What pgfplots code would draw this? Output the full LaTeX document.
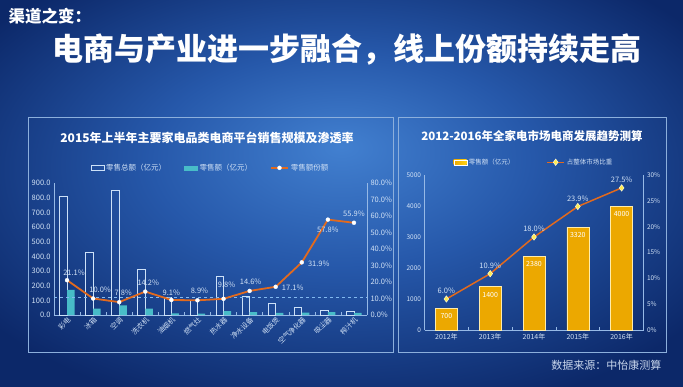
\documentclass[border=0pt]{standalone}
\usepackage{fontspec}
\setmainfont{Noto Sans CJK SC}
\usepackage{pgfplots}
\pgfplotsset{compat=1.18}
\usepackage{pgfplotstable}
\definecolor{bgdark}{RGB}{12,40,105}
\definecolor{bgmid}{RGB}{38,88,170}
\definecolor{bglight}{RGB}{66,128,208}
\definecolor{txt}{RGB}{210,226,246}
\definecolor{axcol}{RGB}{150,185,230}
\definecolor{panelcol}{RGB}{140,175,220}
\definecolor{barline}{RGB}{205,225,248}
\definecolor{cyanbar}{RGB}{72,188,200}
\definecolor{orangeline}{RGB}{226,106,30}
\definecolor{gold1}{RGB}{236,168,0}
\definecolor{gold2}{RGB}{255,210,20}
\definecolor{diam}{RGB}{255,236,80}
\definecolor{dashcol}{RGB}{130,185,240}
\definecolor{footcol}{RGB}{200,214,236}
\pgfdeclareradialshading{bgshade}{\pgfpoint{0bp}{6bp}}{color(0bp)=(bglight); color(14bp)=(bgmid); color(32bp)=(bgdark); color(50bp)=(bgdark)}
\pgfplotsset{/pgf/number format/assume math mode=true, /pgf/number format/1000 sep={}}

\pgfplotstableread{
x total retail share dx dy
0 810 171 21.1 7 8
1 430 43 10.0 7 10
2 850 66 7.8 4 10
3 310 44 14.2 3 10
4 120 11 9.1 0 8
5 100 9 8.9 2 11
6 265 26 9.8 3 15
7 130 19 14.6 1 10
8 80 14 17.1 17 0
9 52 17 31.9 17 0
10 34 20 57.8 0 -9
11 27 15 55.9 0 10
}\leftdata

\pgfplotstableread{
x sales share
0 700 6.0
1 1400 10.9
2 2380 18.0
3 3320 23.9
4 4000 27.5
}\rightdata

\begin{document}
\begin{tikzpicture}[x=1pt,y=1pt]
\useasboundingbox (0,0) rectangle (683,386);
\shade[shading=bgshade] (0,0) rectangle (683,386);
\draw[panelcol, line width=0.8pt] (28,34) rectangle (393,269);
\draw[panelcol, line width=0.8pt] (398,34) rectangle (666,269);

\node[anchor=west, text=white, font=\bfseries\fontsize{16.5}{16.5}\selectfont] at (5,370) {渠道之变：};
\node[text=white, font=\bfseries\fontsize{31}{31}\selectfont] at (347,336) {电商与产业进一步融合，线上份额持续走高};
\node[text=white, font=\bfseries\fontsize{12}{12}\selectfont] at (207,248) {2015年上半年主要家电品类电商平台销售规模及渗透率};
\node[text=white, font=\bfseries\fontsize{11.5}{12}\selectfont] at (532,250) {2012-2016年全家电市场电商发展趋势测算};
\node[anchor=east, text=footcol, font=\fontsize{11}{11}\selectfont] at (665,21) {数据来源：中怡康测算};

% ---------- left chart: amounts ----------
\begin{axis}[
  at={(54pt,71pt)}, anchor=south west, scale only axis,
  width=313pt, height=132pt,
  xmin=-0.5, xmax=11.5, ymin=0, ymax=900,
  axis x line*=bottom, axis y line*=left,
  axis line style={axcol, line width=0.5pt},
  xtick={0,...,11},
  xticklabels={彩电,冰箱,空调,洗衣机,油烟机,燃气灶,热水器,净水设备,电饭煲,空气净化器,吸尘器,榨汁机},
  x tick label style={rotate=45, anchor=north east, font=\fontsize{7}{7.5}\selectfont, text=txt, inner sep=0.5pt},
  minor xtick={-0.5,0.5,...,11.5},
  major tick length=0pt, minor tick length=3pt, tick align=inside,
  minor tick style={axcol, line width=0.5pt},
  ytick={0,100,...,900},
  y tick label style={font=\fontsize{7.5}{8}\selectfont, text=txt},
  yticklabel={\pgfmathprintnumber[fixed,fixed zerofill,precision=1]{\tick}},
  scaled y ticks=false,
  clip=false,
]
\addplot[ybar, bar width=7.5pt, bar shift=-3.8pt, draw=barline, line width=0.6pt, fill=none] table[x=x, y=total]{\leftdata};
\addplot[ybar, bar width=7.5pt, bar shift=3.8pt, draw=none, fill=cyanbar] table[x=x, y=retail]{\leftdata};
\end{axis}

% ---------- left chart: share ----------
\begin{axis}[
  at={(54pt,71pt)}, anchor=south west, scale only axis,
  width=313pt, height=132pt,
  xmin=-0.5, xmax=11.5, ymin=0, ymax=80,
  axis y line*=right, axis x line=none,
  axis line style={axcol, line width=0.5pt},
  major tick length=0pt,
  ytick={0,10,...,80},
  y tick label style={font=\fontsize{7.5}{8}\selectfont, text=txt},
  yticklabel={\pgfmathprintnumber[fixed,fixed zerofill,precision=1]{\tick}\%},
  clip=false,
  legend style={at={(0.5,1)}, anchor=south, yshift=7pt, draw=none, fill=none,
    text=txt, font=\fontsize{7.5}{9}\selectfont, legend columns=3,
    /tikz/every even column/.append style={column sep=16pt}},
  legend cell align=left,
]
\addlegendimage{legend image code/.code={\draw[draw=barline, line width=0.6pt] (0pt,-2.5pt) rectangle (13pt,2.5pt);}}
\addlegendentry{零售总额（亿元）}
\addlegendimage{legend image code/.code={\fill[cyanbar] (0pt,-2pt) rectangle (13pt,2pt);}}
\addlegendentry{零售额（亿元）}
\addplot[dashcol, dashed, line width=0.7pt, forget plot] coordinates {(-0.5,10.7) (11.5,10.7)};
\addplot[orangeline, line width=1.8pt, mark=*, mark size=2pt,
  mark options={fill=white, draw=white, line width=0.3pt},
  point meta=y,
  nodes near coords={\pgfmathprintnumber[fixed,fixed zerofill,precision=1]{\pgfplotspointmeta}\%},
  visualization depends on={\thisrow{dx}\as\dx},
  visualization depends on={\thisrow{dy}\as\dy},
  every node near coord/.append style={font=\fontsize{7.5}{8}\selectfont, text=txt, inner sep=1pt, xshift=\dx pt, yshift={\dy pt-5pt}}]
  table[x=x, y=share]{\leftdata};
\addlegendentry{零售额份额}
\end{axis}

% ---------- right chart: sales ----------
\begin{axis}[
  at={(424.5pt,56pt)}, anchor=south west, scale only axis,
  width=219pt, height=155pt,
  xmin=-0.5, xmax=4.5, ymin=0, ymax=5000,
  axis x line*=bottom, axis y line*=left,
  axis line style={axcol, line width=0.5pt},
  xtick={0,...,4},
  xticklabels={2012年,2013年,2014年,2015年,2016年},
  x tick label style={font=\fontsize{7}{8}\selectfont, text=txt},
  minor xtick={-0.5,0.5,...,4.5},
  major tick length=0pt, minor tick length=3pt, tick align=inside,
  minor tick style={axcol, line width=0.5pt},
  ytick={0,1000,...,5000},
  y tick label style={font=\fontsize{6.5}{8}\selectfont, text=txt},
  scaled y ticks=false,
  clip=false,
]
\addplot[ybar, bar width=22pt, draw={rgb,255:red,255;green,236;blue,170}, line width=0.5pt,
  left color=gold1, middle color=gold2, right color=gold1,
  point meta=y, nodes near coords,
  every node near coord/.append style={font=\fontsize{7}{8}\selectfont, text=white, inner sep=1pt, yshift=-12pt}]
  table[x=x, y=sales]{\rightdata};
\end{axis}

% ---------- right chart: share ----------
\begin{axis}[
  at={(424.5pt,56pt)}, anchor=south west, scale only axis,
  width=219pt, height=155pt,
  xmin=-0.5, xmax=4.5, ymin=0, ymax=30,
  axis y line*=right, axis x line=none,
  axis line style={axcol, line width=0.5pt},
  major tick length=0pt,
  ytick={0,5,...,30},
  y tick label style={font=\fontsize{6.5}{8}\selectfont, text=txt},
  yticklabel={\pgfmathprintnumber[fixed,precision=0]{\tick}\%},
  clip=false,
  legend style={at={(0.5,1)}, anchor=south, yshift=5pt, draw=none, fill=none,
    text=txt, font=\fontsize{6.5}{8}\selectfont, legend columns=2,
    /tikz/every even column/.append style={column sep=30pt}},
  legend cell align=left,
]
\addlegendimage{legend image code/.code={\shade[left color=gold1, right color=gold2, draw=white] (0pt,-2.5pt) rectangle (13pt,2.5pt);}}
\addlegendentry{零售额（亿元）}
\addplot[orangeline, line width=1.5pt, mark=diamond*, mark size=3.2pt,
  mark options={fill=diam, draw={rgb,255:red,255;green,250;blue,210}, line width=0.5pt},
  point meta=y,
  nodes near coords={\pgfmathprintnumber[fixed,fixed zerofill,precision=1]{\pgfplotspointmeta}\%},
  every node near coord/.append style={font=\fontsize{7.5}{8}\selectfont, text=txt, inner sep=1pt, yshift=4pt}]
  table[x=x, y=share]{\rightdata};
\addlegendentry{占整体市场比重}
\end{axis}
\end{tikzpicture}
\end{document}
